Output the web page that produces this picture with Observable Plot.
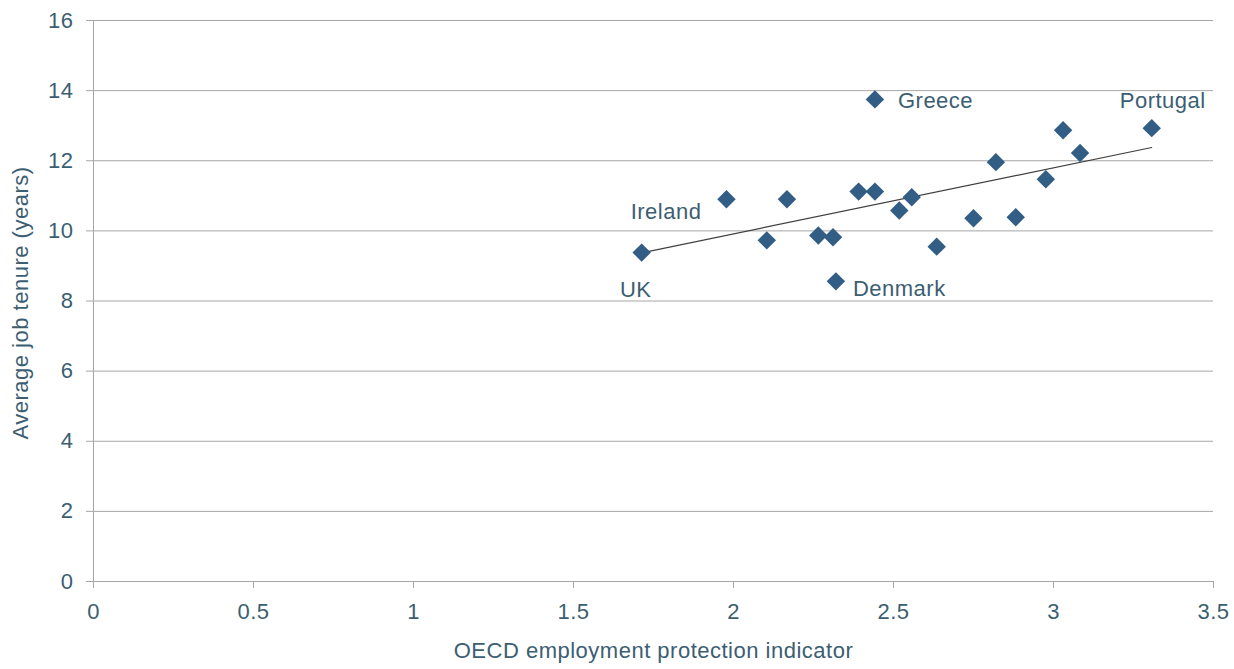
<!DOCTYPE html>
<html>
<head>
<meta charset="utf-8">
<script src="https://cdn.jsdelivr.net/npm/d3@7"></script>
<script src="https://cdn.jsdelivr.net/npm/@observablehq/plot@0.6"></script>
<style>
  html, body { margin: 0; padding: 0; background: #fff; }
  #chart svg { display: block; }
</style>
</head>
<body>
<div id="chart"></div>
<script>
// OECD employment protection indicator vs. average job tenure (years)
const epl = [1.713, 1.978, 2.104, 2.167, 2.265, 2.311, 2.320, 2.391, 2.442, 2.442,
             2.518, 2.557, 2.635, 2.750, 2.820, 2.882, 2.976, 3.030, 3.083, 3.307];
const tenure = [9.38, 10.90, 9.73, 10.90, 9.87, 9.82, 8.56, 11.12, 11.12, 13.75,
                10.58, 10.96, 9.55, 10.36, 11.96, 10.39, 11.47, 12.87, 12.22, 12.93];
const country = ["UK", "Ireland", "", "", "", "", "Denmark", "", "", "Greece",
                 "", "", "", "", "", "", "", "", "", "Portugal"];
const xTicks = [0, 0.5, 1, 1.5, 2, 2.5, 3, 3.5];
const yTicks = [0, 2, 4, 6, 8, 10, 12, 14, 16];

const rows = epl.map((x, i) => ({x, y: tenure[i], name: country[i]}));

// where each country name sits relative to its marker
const placement = {
  "UK":       {textAnchor: "middle", dx: -6,  dy: 37},
  "Ireland":  {textAnchor: "end",    dx: -25, dy: 13},
  "Denmark":  {textAnchor: "start",  dx: 17,  dy: 8},
  "Greece":   {textAnchor: "start",  dx: 23,  dy: 2},
  "Portugal": {textAnchor: "middle", dx: 11,  dy: -27}
};

const ink = "#3c5e72";
const dotColor = "#325d85";
const gridColor = "#a6a6a6";
const fs = 22;

const labelMarks = Object.entries(placement).map(([name, p]) =>
  Plot.text(rows.filter(d => d.name === name), {
    x: "x", y: "y", text: "name",
    textAnchor: p.textAnchor, dx: p.dx, dy: p.dy,
    fill: ink, fontSize: fs
  })
);

const chart = Plot.plot({
  width: 1234,
  height: 669,
  marginLeft: 93,
  marginRight: 21,
  marginTop: 20,
  marginBottom: 88,
  style: {
    fontFamily: "'Liberation Sans', Arial, sans-serif",
    fontSize: fs + "px",
    letterSpacing: "0.5px",
    color: ink,
    background: "#fff"
  },
  x: {domain: [0, 3.5], ticks: xTicks, tickFormat: d => String(d), label: null},
  y: {domain: [0, 16], ticks: yTicks, tickFormat: d => String(d), label: null},
  marks: [
    Plot.gridY(yTicks, {stroke: gridColor, strokeOpacity: 1, strokeWidth: 1}),
    Plot.ruleY([0], {stroke: gridColor, strokeWidth: 1}),
    Plot.ruleX([0], {stroke: gridColor, strokeWidth: 1}),
    Plot.axisY(yTicks, {tickSize: 7, tickPadding: 13, stroke: gridColor, fill: ink, fontSize: fs, label: null}),
    Plot.axisX(xTicks, {tickSize: 7, tickPadding: 15, stroke: gridColor, fill: ink, fontSize: fs, label: null, tickFormat: d => String(d)}),
    Plot.linearRegressionY(rows, {x: "x", y: "y", ci: 0, stroke: "#404040", strokeWidth: 1.2}),
    Plot.dot(rows, {x: "x", y: "y", symbol: "diamond2", r: 8.3, fill: dotColor, stroke: "none"}),
    ...labelMarks,
    Plot.text(["OECD employment protection indicator"], {
      frameAnchor: "bottom", dy: 76, fill: ink, fontSize: fs
    }),
    Plot.text(["Average job tenure (years)"], {
      frameAnchor: "left", textAnchor: "middle", dx: -73, dy: 2, rotate: -90, fill: ink, fontSize: fs
    })
  ]
});

document.getElementById("chart").appendChild(chart);
</script>
</body>
</html>
